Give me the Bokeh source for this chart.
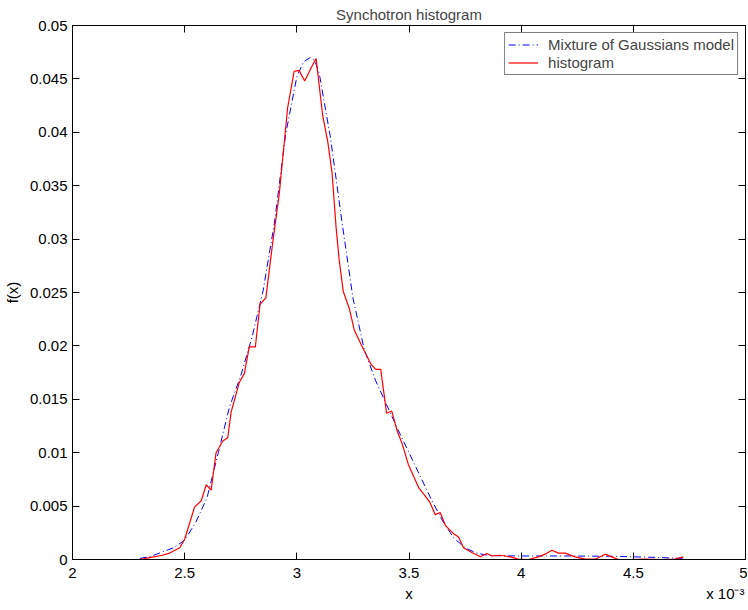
from bokeh.plotting import figure
from bokeh.models import Range1d, LinearAxis, FixedTicker
from bokeh.embed import file_html
from bokeh.resources import INLINE

# ---- data (x in units of 1e-3) ----
hist_x = [2.30, 2.35, 2.40, 2.433, 2.478, 2.50, 2.544, 2.574, 2.596, 2.618,
          2.64, 2.67, 2.692, 2.707, 2.744, 2.766, 2.788, 2.815, 2.836, 2.862,
          2.892, 2.922, 2.959, 2.988, 3.010, 3.035, 3.068, 3.086, 3.115, 3.138,
          3.157, 3.175, 3.189, 3.207, 3.234, 3.256, 3.285, 3.33, 3.352, 3.374,
          3.40, 3.423, 3.448, 3.47, 3.497, 3.544, 3.592, 3.617, 3.639, 3.662,
          3.699, 3.721, 3.743, 3.78, 3.818, 3.847, 3.869, 3.907, 3.951, 3.988,
          4.033, 4.077, 4.107, 4.137, 4.166, 4.196, 4.24, 4.285, 4.33, 4.374,
          4.404, 4.433, 4.493, 4.552, 4.626, 4.685, 4.723]
hist_y = [0.0, 0.0002, 0.0004, 0.0006, 0.0011, 0.0019, 0.0049, 0.0055, 0.0070, 0.0065,
          0.0100, 0.0111, 0.0114, 0.0138, 0.0166, 0.0174, 0.0199, 0.0199, 0.0239, 0.0245,
          0.0296, 0.0343, 0.0423, 0.0457, 0.0458, 0.0448, 0.0462, 0.0469, 0.0416, 0.0391,
          0.0362, 0.0311, 0.0280, 0.0251, 0.0235, 0.0215, 0.0202, 0.0183, 0.0178, 0.0178,
          0.0137, 0.0139, 0.0120, 0.0108, 0.0089, 0.0067, 0.0054, 0.0042, 0.0044, 0.0032,
          0.0024, 0.0021, 0.0011, 0.00066, 0.00025, 0.00056, 0.00034, 0.0004, 0.00025, 0.00003,
          0.0, 0.00025, 0.0005, 0.00087, 0.0006, 0.0006, 0.00025, 0.00003, 0.00003, 0.0005,
          0.00025, 0.0, 0.0, 0.00003, 0.0, 0.00003, 0.00025]

model_x = [2.30, 2.35, 2.40, 2.45, 2.50, 2.55, 2.60, 2.65, 2.70, 2.75,
           2.80, 2.85, 2.90, 2.95, 3.00, 3.03, 3.06, 3.08, 3.10, 3.15,
           3.20, 3.25, 3.30, 3.35, 3.40, 3.45, 3.50, 3.55, 3.60, 3.65,
           3.70, 3.75, 3.80, 3.85, 3.90, 4.00, 4.20, 4.40, 4.60, 4.72]
model_y = [0.0001, 0.0003, 0.0007, 0.0011, 0.0018, 0.0035, 0.0058, 0.0100, 0.0143, 0.0172,
           0.0208, 0.0252, 0.0315, 0.0398, 0.0452, 0.0466, 0.0470, 0.0467, 0.0455, 0.0395,
           0.0318, 0.0245, 0.0197, 0.0168, 0.0145, 0.0122, 0.0100, 0.0078, 0.0056, 0.0036,
           0.0020, 0.0011, 0.0006, 0.0004, 0.00035, 0.00033, 0.00033, 0.0003, 0.0002, 0.0001]

x_ticks = [2, 2.5, 3, 3.5, 4, 4.5, 5]
x_tick_labels = ["2", "2.5", "3", "3.5", "4", "4.5", "5"]
y_ticks = [0, 0.005, 0.01, 0.015, 0.02, 0.025, 0.03, 0.035, 0.04, 0.045, 0.05]
y_tick_labels = ["0", "0.005", "0.01", "0.015", "0.02", "0.025", "0.03", "0.035",
                 "0.04", "0.045", "0.05"]
x_label = "x"
x_scale_note = "x 10\u207b\u00b3"

FONT = "Liberation Sans"
FS = "15px"

p = figure(frame_width=673, frame_height=534, output_backend="svg", toolbar_location=None,
           x_range=Range1d(2, 5), y_range=Range1d(0, 0.05),
           min_border_left=65, min_border_right=2, min_border_bottom=49,
           min_border_top=17, y_axis_label="f(x)")

p.title.text = "Synchotron histogram"
p.title.align = "center"
p.title.text_font = FONT
p.title.text_font_size = FS
p.title.text_font_style = "normal"
p.title.standoff = 6

p.grid.visible = False
p.outline_line_color = "black"
p.outline_line_width = 1
p.background_fill_color = "white"
p.border_fill_color = "white"

def style_axis(ax, ticks, labels, show_labels=True):
    ax.ticker = FixedTicker(ticks=ticks)
    ax.major_label_overrides = {t: l for t, l in zip(ticks, labels)}
    ax.major_tick_in = 7
    ax.major_tick_out = 0
    ax.minor_tick_in = 0
    ax.minor_tick_out = 0
    ax.axis_line_color = "black"
    ax.major_tick_line_color = "black"
    ax.major_label_text_font = FONT
    ax.major_label_text_font_size = FS if show_labels else "0px"
    ax.major_label_text_color = "black"
    ax.major_label_standoff = 5 if show_labels else 0
    ax.axis_label_text_font = FONT
    ax.axis_label_text_font_size = FS
    ax.axis_label_text_font_style = "normal"
    ax.axis_label_text_color = "black"

style_axis(p.xaxis[0], x_ticks, x_tick_labels)
style_axis(p.yaxis[0], y_ticks, y_tick_labels)
p.xaxis[0].major_label_standoff = 8
p.yaxis[0].axis_label_standoff = 6

# second row under the x axis: axis title "x" (centred) and the scale note (right)
note_ax = LinearAxis()
style_axis(note_ax, [3.5, 4.91], [x_label, x_scale_note])
note_ax.axis_line_color = None
note_ax.major_tick_line_color = None
note_ax.major_tick_in = 0
note_ax.major_label_standoff = 4
p.add_layout(note_ax, "below")

top_ax = LinearAxis()
style_axis(top_ax, x_ticks, [""] * len(x_ticks), show_labels=False)
p.add_layout(top_ax, "above")
right_ax = LinearAxis()
style_axis(right_ax, y_ticks, [""] * len(y_ticks), show_labels=False)
p.add_layout(right_ax, "right")

p.line(model_x, model_y, line_color="blue", line_width=1, line_dash="7 3 1 3",
       legend_label="Mixture of Gaussians model")
p.line(hist_x, hist_y, line_color="red", line_width=1.2, legend_label="histogram")

lg = p.legend[0]
lg.location = "top_right"
lg.margin = 7
lg.padding = 3
lg.spacing = 1
lg.label_height = 15
lg.glyph_height = 15
lg.glyph_width = 30
lg.label_standoff = 10
lg.label_text_font = FONT
lg.label_text_font_size = FS
lg.border_line_color = "black"
lg.border_line_width = 1
lg.background_fill_color = "white"
lg.background_fill_alpha = 1

open("out.html", "w").write(file_html(p, INLINE))
